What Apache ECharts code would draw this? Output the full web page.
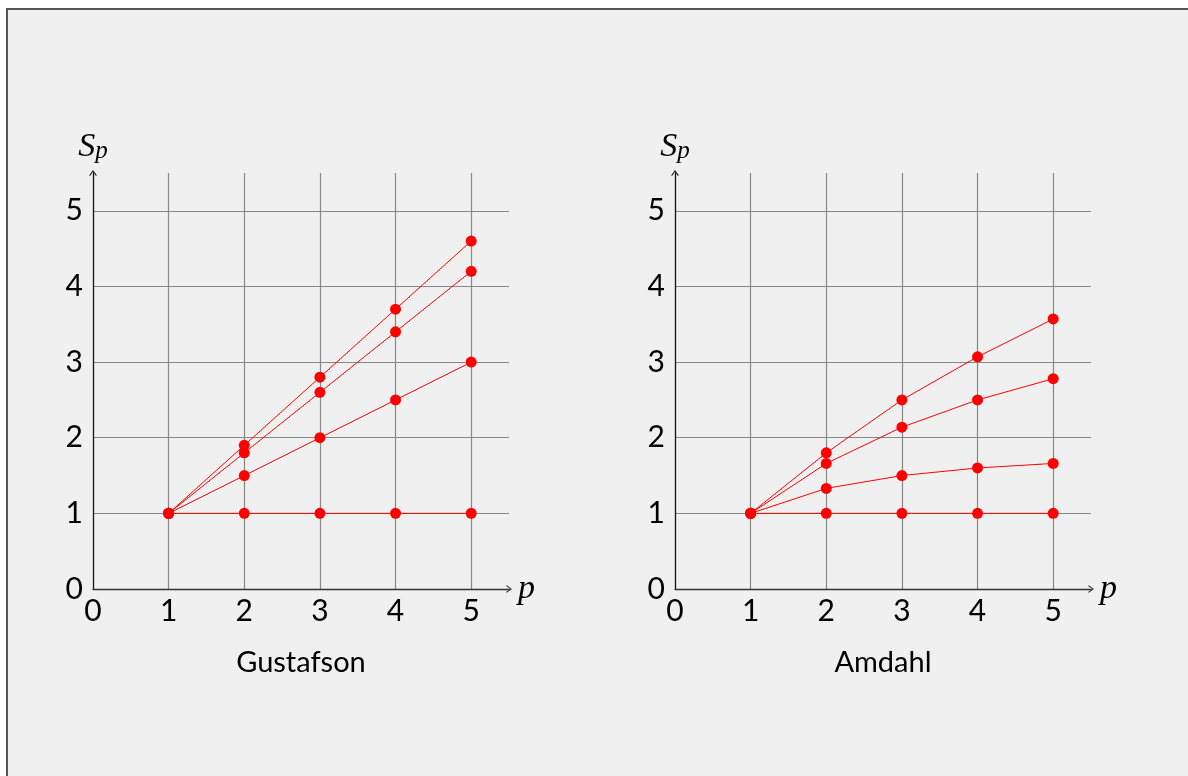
<!DOCTYPE html>
<html>
<head>
<meta charset="utf-8">
<script src="https://cdn.jsdelivr.net/npm/echarts@6/dist/echarts.min.js"></script>
<style>
  html, body { margin: 0; padding: 0; background: #ffffff; }
  #frame {
    position: absolute; left: 6px; top: 8px; width: 1182px; height: 768px;
    background: #f0f0f0; border-left: 2px solid #555; border-top: 2px solid #555;
  }
  #chart { position: absolute; left: 0; top: 0; width: 1188px; height: 776px; }
</style>
</head>
<body>
<div id="frame"></div>
<div id="chart"></div>
<script>
  // processors
  var pValues = [1, 2, 3, 4, 5]

  // Gustafson speedup curves
  var gustafsonA = [1, 1.9, 2.8, 3.7, 4.6]
  var gustafsonB = [1, 1.8, 2.6, 3.4, 4.2]
  var gustafsonC = [1, 1.5, 2.0, 2.5, 3.0]
  var gustafsonD = [1, 1, 1, 1, 1]

  // Amdahl speedup curves
  var amdahlA = [1, 1.8, 2.5, 3.07, 3.57]
  var amdahlB = [1, 1.66, 2.14, 2.5, 2.78]
  var amdahlC = [1, 1.33, 1.5, 1.6, 1.66]
  var amdahlD = [1, 1, 1, 1, 1]

  var tickLabels = ['0', '1', '2', '3', '4', '5']
  var panelTitles = ['Gustafson', 'Amdahl']

  var arrow = 'path://M5,0 L10,7 L9,8 L5,2.4 L1,8 L0,7 Z'
  var labelFont = 'Lato'

  function pairs(ys) {
    return pValues.map(function (p, i) { return [p, ys[i]] })
  }

  function lineSeries(ys, idx) {
    return {
      type: 'line',
      xAxisIndex: idx,
      yAxisIndex: idx,
      data: pairs(ys),
      symbol: 'circle',
      symbolSize: 11,
      color: '#ff0000',
      lineStyle: { color: '#ff0000', width: 1 },
      itemStyle: { color: '#ff0000' },
      z: 5
    }
  }

  function xAxis(idx) {
    return {
      type: 'value',
      gridIndex: idx,
      min: 0,
      max: 5.5,
      interval: 1,
      name: 'p',
      nameLocation: 'end',
      nameGap: 9,
      nameTextStyle: { fontFamily: 'Liberation Serif', fontStyle: 'italic', fontSize: 34, color: '#000', padding: [0, 0, 8, 0] },
      axisLine: { show: true, onZero: false, symbol: ['none', arrow], symbolSize: [9, 6], lineStyle: { color: '#333', width: 1.3 } },
      axisTick: { show: false },
      splitLine: { show: true, showMinLine: false, showMaxLine: false, lineStyle: { color: '#888', width: 1.2 } },
      axisLabel: {
        showMaxLabel: false,
        margin: 7,
        fontFamily: labelFont,
        fontSize: 30,
        color: '#000',
        formatter: function (v) { return tickLabels[v] || '' }
      }
    }
  }

  function yAxis(idx) {
    return {
      type: 'value',
      gridIndex: idx,
      min: 0,
      max: 5.5,
      interval: 1,
      name: '{s|S}{sub|p}',
      nameLocation: 'end',
      nameGap: 9,
      nameTextStyle: {
        rich: {
          s: { fontFamily: 'Liberation Serif', fontStyle: 'italic', fontSize: 34, color: '#000', verticalAlign: 'bottom' },
          sub: { fontFamily: 'Liberation Serif', fontStyle: 'italic', fontSize: 25, color: '#000', padding: [16, 0, 0, 0], verticalAlign: 'bottom' }
        }
      },
      axisLine: { show: true, onZero: false, symbol: ['none', arrow], symbolSize: [9, 6], lineStyle: { color: '#111', width: 1.3 } },
      axisTick: { show: false },
      splitLine: { show: true, showMinLine: false, showMaxLine: false, lineStyle: { color: '#888', width: 1.2 } },
      axisLabel: {
        showMaxLabel: false,
        margin: 10,
        fontFamily: labelFont,
        fontSize: 30,
        color: '#000',
        formatter: function (v) { return tickLabels[v] || '' }
      }
    }
  }

  var option = {
    animation: false,
    backgroundColor: 'transparent',
    title: [
      { text: panelTitles[0], left: 296, top: 643, textAlign: 'center', textStyle: { fontFamily: labelFont, fontSize: 29, fontWeight: 'normal', color: '#000' } },
      { text: panelTitles[1], left: 878, top: 643, textAlign: 'center', textStyle: { fontFamily: labelFont, fontSize: 29, fontWeight: 'normal', color: '#000' } }
    ],
    grid: [
      { left: 93, top: 173, width: 416, height: 416 },
      { left: 675, top: 173, width: 416, height: 416 }
    ],
    xAxis: [xAxis(0), xAxis(1)],
    yAxis: [yAxis(0), yAxis(1)],
    series: [
      lineSeries(gustafsonD, 0),
      lineSeries(gustafsonC, 0),
      lineSeries(gustafsonB, 0),
      lineSeries(gustafsonA, 0),
      lineSeries(amdahlD, 1),
      lineSeries(amdahlC, 1),
      lineSeries(amdahlB, 1),
      lineSeries(amdahlA, 1)
    ]
  }

  var chart = echarts.init(document.getElementById('chart'), null, { renderer: 'canvas' })
  chart.setOption(option)
</script>
</body>
</html>
